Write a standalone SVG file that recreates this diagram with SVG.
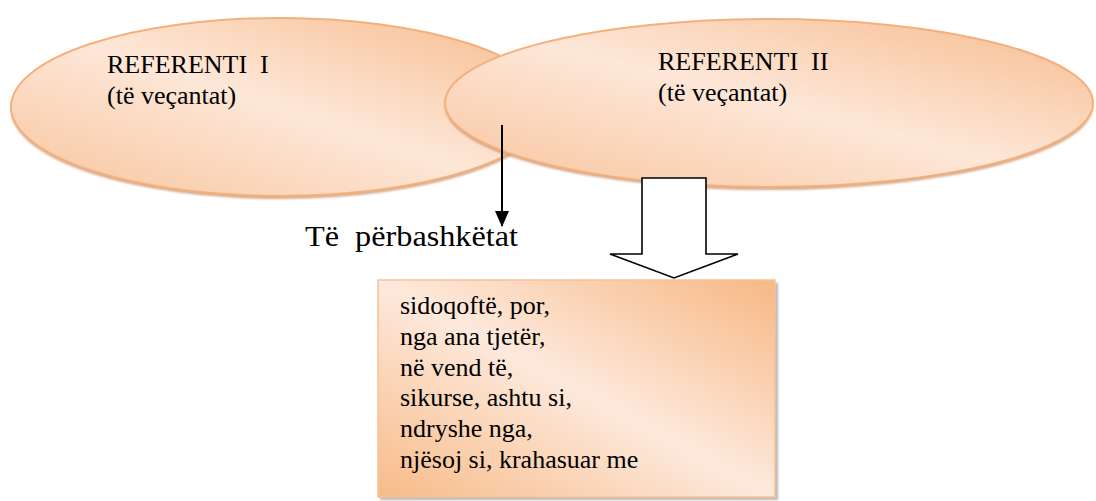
<svg xmlns="http://www.w3.org/2000/svg" width="1096" height="501" viewBox="0 0 1096 501">
<style>
.t{font-family:"Liberation Serif","DejaVu Serif",serif;font-size:26px;fill:#000}
.big{font-family:"Liberation Serif","DejaVu Serif",serif;font-size:29px;fill:#000}
.ell{stroke:#f4b07c;stroke-width:2}
.shadow{fill:#d09c76;opacity:0.85}
</style>
<defs>
<linearGradient id="gEll" x1="1" y1="0" x2="0" y2="1">
<stop offset="0" stop-color="#f7bb8c"/>
<stop offset="0.5" stop-color="#fde7d8"/>
<stop offset="1" stop-color="#f8c49b"/>
</linearGradient>
<linearGradient id="gBox" x1="1" y1="0" x2="0" y2="1">
<stop offset="0" stop-color="#f7b884"/>
<stop offset="0.5" stop-color="#fde9dc"/>
<stop offset="1" stop-color="#f7bb88"/>
</linearGradient>
<filter id="blur" x="-5%" y="-5%" width="110%" height="120%">
<feGaussianBlur stdDeviation="1.2"/>
</filter>
<marker id="ah" markerWidth="16" markerHeight="14" refX="15" refY="7" orient="auto" markerUnits="userSpaceOnUse" viewBox="0 0 16 14">
<path d="M0,0 L16,7 L0,14 Z" fill="#000"/>
</marker>
</defs>

<g id="referenti1">
<ellipse cx="280" cy="110" rx="269" ry="89" class="shadow" filter="url(#blur)"/>
<ellipse cx="280" cy="107" rx="269" ry="89" class="ell" fill="url(#gEll)"/>
<text class="t" font-family="Liberation Serif, DejaVu Serif, serif" x="107" y="73" xml:space="preserve">REFERENTI  I</text>
<text class="t" font-family="Liberation Serif, DejaVu Serif, serif" x="107" y="104">(të veçantat)</text>
</g>

<g id="referenti2">
<ellipse cx="769" cy="106" rx="324" ry="84" class="shadow" filter="url(#blur)"/>
<ellipse cx="769" cy="103" rx="324" ry="84" class="ell" fill="url(#gEll)"/>
<text class="t" font-family="Liberation Serif, DejaVu Serif, serif" x="658" y="70" xml:space="preserve">REFERENTI  II</text>
<text class="t" font-family="Liberation Serif, DejaVu Serif, serif" x="658" y="101">(të veçantat)</text>
</g>

<g id="perbashketat">
<text class="big" font-family="Liberation Serif, DejaVu Serif, serif" x="305" y="246" xml:space="preserve" textLength="213" lengthAdjust="spacingAndGlyphs">Të  përbashkëtat</text>
</g>

<g id="lidhezat">
<rect x="380" y="283" width="398" height="217" fill="#b8b8b8" filter="url(#blur)"/>
<rect x="378" y="280" width="397" height="217" fill="url(#gBox)" stroke="#f6c29a" stroke-width="1.5"/>
<text class="t" font-family="Liberation Serif, DejaVu Serif, serif" x="400" y="314">sidoqoftë, por,</text>
<text class="t" font-family="Liberation Serif, DejaVu Serif, serif" x="400" y="345">nga ana tjetër,</text>
<text class="t" font-family="Liberation Serif, DejaVu Serif, serif" x="400" y="376">në vend të,</text>
<text class="t" font-family="Liberation Serif, DejaVu Serif, serif" x="400" y="406">sikurse, ashtu si,</text>
<text class="t" font-family="Liberation Serif, DejaVu Serif, serif" x="400" y="437">ndryshe nga,</text>
<text class="t" font-family="Liberation Serif, DejaVu Serif, serif" x="400" y="468">njësoj si, krahasuar me</text>
</g>

<g id="connectors">
<line x1="502" y1="125" x2="502" y2="226" stroke="#000" stroke-width="2" marker-end="url(#ah)"/>
<polygon points="642,178 706,178 706,254 738,254 674,278 610,254 642,254" fill="#fff" stroke="#000" stroke-width="1.6" stroke-linejoin="miter"/>
</g>
</svg>
